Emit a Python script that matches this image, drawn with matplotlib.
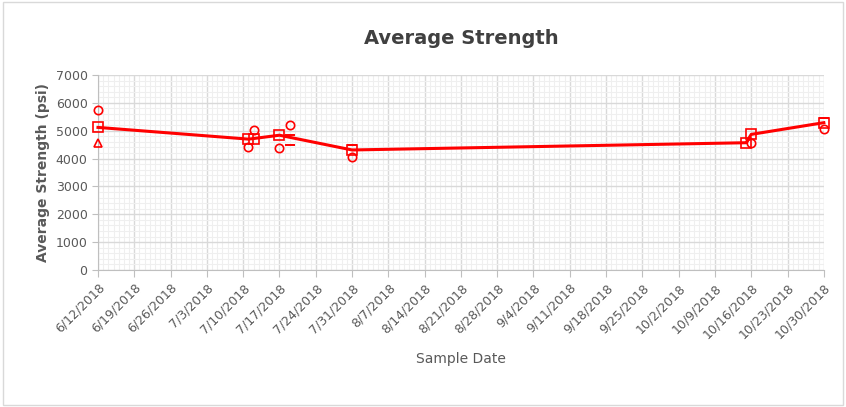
import numpy as np
import pandas as pd
import matplotlib
matplotlib.use("Agg")
import matplotlib.pyplot as plt
import matplotlib.dates as mdates

# average strength per sample date (line with squares)
avg_dates = ["2018-06-12", "2018-07-11", "2018-07-12", "2018-07-17",
             "2018-07-31", "2018-10-15", "2018-10-16", "2018-10-30"]
avg_vals = [5120, 4700, 4720, 4840, 4310, 4570, 4870, 5290]

# individual cylinder breaks
circle_dates = ["2018-06-12", "2018-07-11", "2018-07-12", "2018-07-17",
                "2018-07-19", "2018-07-31", "2018-10-16", "2018-10-30"]
circle_vals = [5740, 4410, 5030, 4380, 5200, 4070, 4560, 5060]

triangle_dates = ["2018-06-12"]
triangle_vals = [4560]

dash_dates = ["2018-07-19", "2018-07-19", "2018-07-31", "2018-10-30"]
dash_vals = [4840, 4490, 4490, 5450]

tick_start = "2018-06-12"
tick_end = "2018-10-30"

red = "#ff0000"
gray = "#595959"

fig = plt.figure(figsize=(8.46, 4.07), dpi=100)
fig.patches.append(plt.Rectangle((0.004, 0.005), 0.992, 0.99, transform=fig.transFigure,
                                 fill=False, edgecolor="#d9d9d9", linewidth=1))
ax = fig.add_axes([0.1158, 0.3366, 0.858, 0.479])

ax.plot(pd.to_datetime(avg_dates), avg_vals, color=red, linewidth=2.2, marker="s",
        markersize=7, markerfacecolor="none", markeredgecolor=red, markeredgewidth=1.2,
        zorder=3, clip_on=False)
ax.plot(pd.to_datetime(circle_dates), circle_vals, linestyle="none", marker="o",
        markersize=6, markerfacecolor="none", markeredgecolor=red, markeredgewidth=1.2,
        zorder=3, clip_on=False)
ax.plot(pd.to_datetime(triangle_dates), triangle_vals, linestyle="none", marker="^",
        markersize=6, markerfacecolor="none", markeredgecolor=red, markeredgewidth=1.2,
        zorder=3, clip_on=False)
ax.plot(pd.to_datetime(dash_dates), dash_vals, linestyle="none", marker="_",
        markersize=7, markeredgecolor=red, markeredgewidth=1.4, zorder=3, clip_on=False)

# axes limits and ticks
ax.set_xlim(pd.Timestamp(tick_start), pd.Timestamp(tick_end))
ax.set_ylim(0, 7000)
ticks = pd.date_range(tick_start, tick_end, freq="7D")
ax.set_xticks(ticks)
ax.set_xticklabels([f"{d.month}/{d.day}/{d.year}" for d in ticks], rotation=45,
                   ha="right", rotation_mode="anchor", color=gray, fontsize=9)
ax.xaxis.set_minor_locator(mdates.DayLocator())
ax.set_yticks(np.arange(0, 7001, 1000))
ax.set_yticks(np.arange(0, 7001, 200), minor=True)
ax.tick_params(axis="y", colors=gray, labelsize=9, length=4, color="#bfbfbf")
ax.tick_params(axis="x", length=5, color="#bfbfbf", pad=3)
ax.tick_params(which="minor", length=0)

ax.grid(which="major", color="#d9d9d9", linewidth=1)
ax.grid(which="minor", color="#efefef", linewidth=0.8)
ax.set_axisbelow(True)

for s in ["top", "right"]:
    ax.spines[s].set_visible(False)
for s in ["left", "bottom"]:
    ax.spines[s].set_color("#bfbfbf")

ax.set_title("Average Strength", fontsize=14, color="#404040", fontweight="semibold", pad=22)
ax.set_ylabel("Average Strength (psi)", fontsize=10, color=gray, fontweight="bold")
ax.set_xlabel("Sample Date", fontsize=10, color=gray, labelpad=8)

fig.savefig("out.png", dpi=100)
